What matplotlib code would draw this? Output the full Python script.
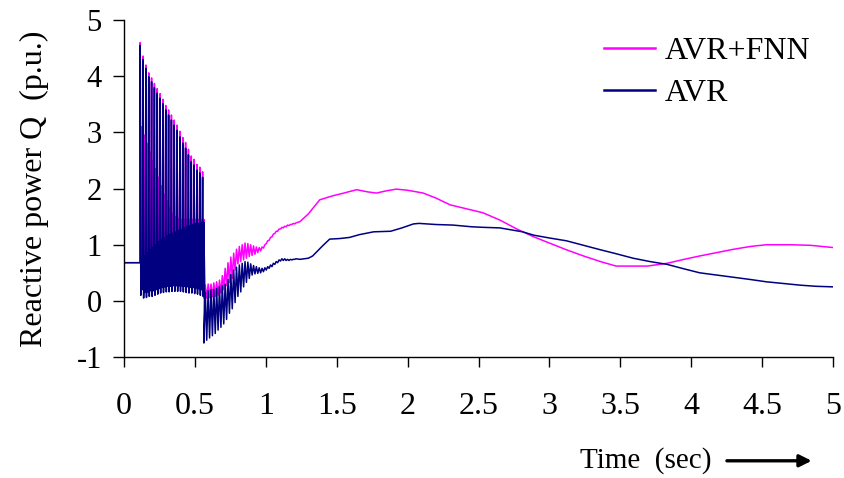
import numpy as np
import matplotlib.pyplot as plt

plt.rcParams['font.family'] = ['Liberation Serif', 'DejaVu Serif']
plt.rcParams['axes.unicode_minus'] = False

# --- steady state before the fault ---
pre_t = [0.0, 0.113]
pre_q = [0.68, 0.68]

# --- fault period: one entry per 50 Hz cycle ---
spike_t = [0.113, 0.133, 0.153, 0.173, 0.193, 0.213, 0.233, 0.253, 0.273, 0.293,
           0.313, 0.333, 0.353, 0.373, 0.393, 0.413, 0.433, 0.453, 0.473, 0.493,
           0.513, 0.533, 0.553]
fnn_peak = [4.60, 4.36, 4.20, 4.06, 3.97, 3.87, 3.78, 3.69, 3.59, 3.48, 3.40, 3.31,
            3.22, 3.13, 3.02, 2.91, 2.82, 2.70, 2.58, 2.52, 2.43, 2.38, 2.30]
fnn_mid = [3.10, 2.95, 2.80, 2.65, 2.50, 2.35, 2.20, 2.05, 1.90, 1.78, 1.66, 1.56,
           1.50, 1.46, 1.45, 1.45, 1.45, 1.45, 1.45, 1.45, 1.45, 1.45, 1.45]
fnn_low = [0.30, 0.28, 0.26, 0.25, 0.25, 0.24, 0.24, 0.24, 0.24, 0.25, 0.25, 0.25,
           0.25, 0.25, 0.25, 0.25, 0.25, 0.25, 0.24, 0.22, 0.20, 0.18, 0.15]
avr_peak = [4.55, 4.30, 4.14, 3.99, 3.90, 3.80, 3.70, 3.61, 3.51, 3.40, 3.31, 3.22,
            3.13, 3.04, 2.92, 2.81, 2.72, 2.60, 2.48, 2.42, 2.33, 2.28, 2.20]
avr_mid = [0.75, 0.80, 0.85, 0.90, 0.95, 1.00, 1.05, 1.08, 1.12, 1.15, 1.18, 1.20,
           1.22, 1.25, 1.27, 1.30, 1.32, 1.34, 1.36, 1.38, 1.38, 1.40, 1.40]
avr_low = [0.10, 0.05, 0.06, 0.08, 0.08, 0.10, 0.12, 0.14, 0.15, 0.16, 0.16, 0.17,
           0.17, 0.17, 0.17, 0.16, 0.15, 0.14, 0.14, 0.13, 0.12, 0.10, 0.08]

# --- after fault clearing: damped oscillation, high / low per cycle ---
post_t = [0.563, 0.583, 0.603, 0.623, 0.643, 0.663, 0.683, 0.703, 0.723, 0.743,
          0.763, 0.783, 0.803, 0.823, 0.843, 0.863, 0.883, 0.903, 0.923, 0.943,
          0.963, 0.983, 1.003, 1.023, 1.043, 1.063, 1.083, 1.103, 1.123, 1.143,
          1.163, 1.183, 1.203]
fnn_post_hi = [0.28, 0.30, 0.30, 0.32, 0.34, 0.37, 0.45, 0.58, 0.68, 0.78, 0.85,
               0.92, 0.97, 1.00, 1.03, 1.02, 1.00, 0.98, 0.96, 0.95, 0.96, 1.00,
               1.07, 1.13, 1.19, 1.24, 1.28, 1.31, 1.33, 1.35, 1.36, 1.38, 1.39]
fnn_post_lo = [0.05, 0.05, 0.06, 0.07, 0.08, 0.10, 0.14, 0.20, 0.27, 0.33, 0.40,
               0.55, 0.66, 0.70, 0.73, 0.76, 0.79, 0.81, 0.83, 0.86, 0.89, 0.94,
               1.02, 1.08, 1.14, 1.20, 1.24, 1.28, 1.30, 1.32, 1.34, 1.36, 1.37]
avr_post_hi = [0.15, 0.18, 0.20, 0.20, 0.22, 0.25, 0.27, 0.30, 0.38, 0.47, 0.55,
               0.60, 0.64, 0.67, 0.70, 0.69, 0.66, 0.63, 0.61, 0.59, 0.58, 0.59,
               0.61, 0.64, 0.67, 0.70, 0.73, 0.75, 0.75, 0.74, 0.74, 0.74, 0.75]
avr_post_lo = [-0.75, -0.70, -0.66, -0.62, -0.58, -0.52, -0.47, -0.41, -0.33, -0.22,
               -0.14, -0.03, 0.08, 0.16, 0.25, 0.33, 0.40, 0.46, 0.48, 0.49, 0.50,
               0.52, 0.55, 0.58, 0.61, 0.65, 0.68, 0.71, 0.72, 0.72, 0.72, 0.73, 0.74]

# --- slow swing afterwards ---
fnn_slow_t = [1.24, 1.30, 1.38, 1.47, 1.55, 1.64, 1.72, 1.78, 1.85, 1.92, 2.00, 2.11,
              2.20, 2.30, 2.40, 2.53, 2.65, 2.77, 2.89, 3.00, 3.12, 3.24, 3.36, 3.47,
              3.58, 3.69, 3.83, 3.95, 4.06, 4.18, 4.30, 4.42, 4.53, 4.70, 4.84, 5.00]
fnn_slow_q = [1.41, 1.55, 1.80, 1.87, 1.92, 1.98, 1.94, 1.92, 1.96, 1.99, 1.97, 1.92,
              1.83, 1.71, 1.65, 1.57, 1.44, 1.28, 1.14, 1.03, 0.91, 0.80, 0.70, 0.62,
              0.62, 0.62, 0.67, 0.74, 0.80, 0.86, 0.92, 0.97, 1.00, 1.00, 0.99, 0.95]
avr_slow_t = [1.24, 1.30, 1.33, 1.40, 1.45, 1.52, 1.59, 1.66, 1.76, 1.88, 1.96, 2.04,
              2.08, 2.20, 2.32, 2.45, 2.53, 2.65, 2.81, 2.89, 3.00, 3.12, 3.24, 3.36,
              3.47, 3.59, 3.71, 3.83, 3.95, 4.06, 4.18, 4.30, 4.42, 4.53, 4.65, 4.77,
              4.88, 5.00]
avr_slow_q = [0.74, 0.76, 0.80, 0.98, 1.10, 1.11, 1.13, 1.18, 1.23, 1.24, 1.30, 1.37,
              1.38, 1.36, 1.35, 1.32, 1.31, 1.30, 1.23, 1.17, 1.12, 1.07, 0.99, 0.91,
              0.84, 0.76, 0.70, 0.65, 0.57, 0.50, 0.46, 0.42, 0.38, 0.34, 0.31, 0.28,
              0.26, 0.25]


def build_trace(peak, mid, low, post_hi, post_lo, slow_t, slow_q):
    # stitch the cycle-by-cycle readings into one time series
    t = list(pre_t)
    q = list(pre_q)
    for i, t0 in enumerate(spike_t):
        t += [t0 + 0.001, t0 + 0.005, t0 + 0.010, t0 + 0.015]
        q += [peak[i], low[i], mid[i], low[i] + 0.1]
    for i, t0 in enumerate(post_t):
        t += [t0, t0 + 0.01]
        q += [post_lo[i], post_hi[i]]
    t += slow_t
    q += slow_q
    return np.array(t), np.array(q)


t_fnn, q_fnn = build_trace(fnn_peak, fnn_mid, fnn_low, fnn_post_hi, fnn_post_lo,
                           fnn_slow_t, fnn_slow_q)
t_avr, q_avr = build_trace(avr_peak, avr_mid, avr_low, avr_post_hi, avr_post_lo,
                           avr_slow_t, avr_slow_q)

fig = plt.figure(figsize=(8.44, 4.78), dpi=100)
ax = fig.add_axes([0.147, 0.253, 0.840, 0.705])

ax.plot(t_fnn, q_fnn, color='#FF00FF', lw=1.1, label='AVR+FNN')
ax.plot(t_avr, q_avr, color='#000080', lw=1.1, label='AVR')

ax.set_xlim(0, 5)
ax.set_ylim(-1, 5)
ax.set_xticks(np.arange(0, 5.01, 0.5))
ax.set_xticklabels(['0', '0.5', '1', '1.5', '2', '2.5', '3', '3.5', '4', '4.5', '5'])
ax.set_yticks(range(-1, 6))
for s in ['top', 'right']:
    ax.spines[s].set_visible(False)
for s in ['left', 'bottom']:
    ax.spines[s].set_linewidth(1.0)
ax.tick_params(axis='x', direction='out', length=7, width=1, pad=18, labelsize=23)
ax.tick_params(axis='y', direction='out', length=8, width=1, pad=8, labelsize=22)

ax.set_ylabel('Reactive power Q  (p.u.)', fontsize=23, labelpad=20)

leg = ax.legend(loc='upper right', bbox_to_anchor=(0.968, 0.95), frameon=False,
                fontsize=23, handlelength=1.6, handletextpad=0.3, labelspacing=0.4,
                borderpad=0, borderaxespad=0)
for line in leg.get_lines():
    line.set_linewidth(1.8)

fig.text(0.687, 0.036, 'Time  (sec)', fontsize=21, ha='left', va='center')
ax.annotate('', xy=(0.965, 0.036), xytext=(0.858, 0.036), xycoords='figure fraction',
            arrowprops=dict(arrowstyle='-|>', color='black', lw=2.4, mutation_scale=18))

fig.savefig('out.png', dpi=100)
